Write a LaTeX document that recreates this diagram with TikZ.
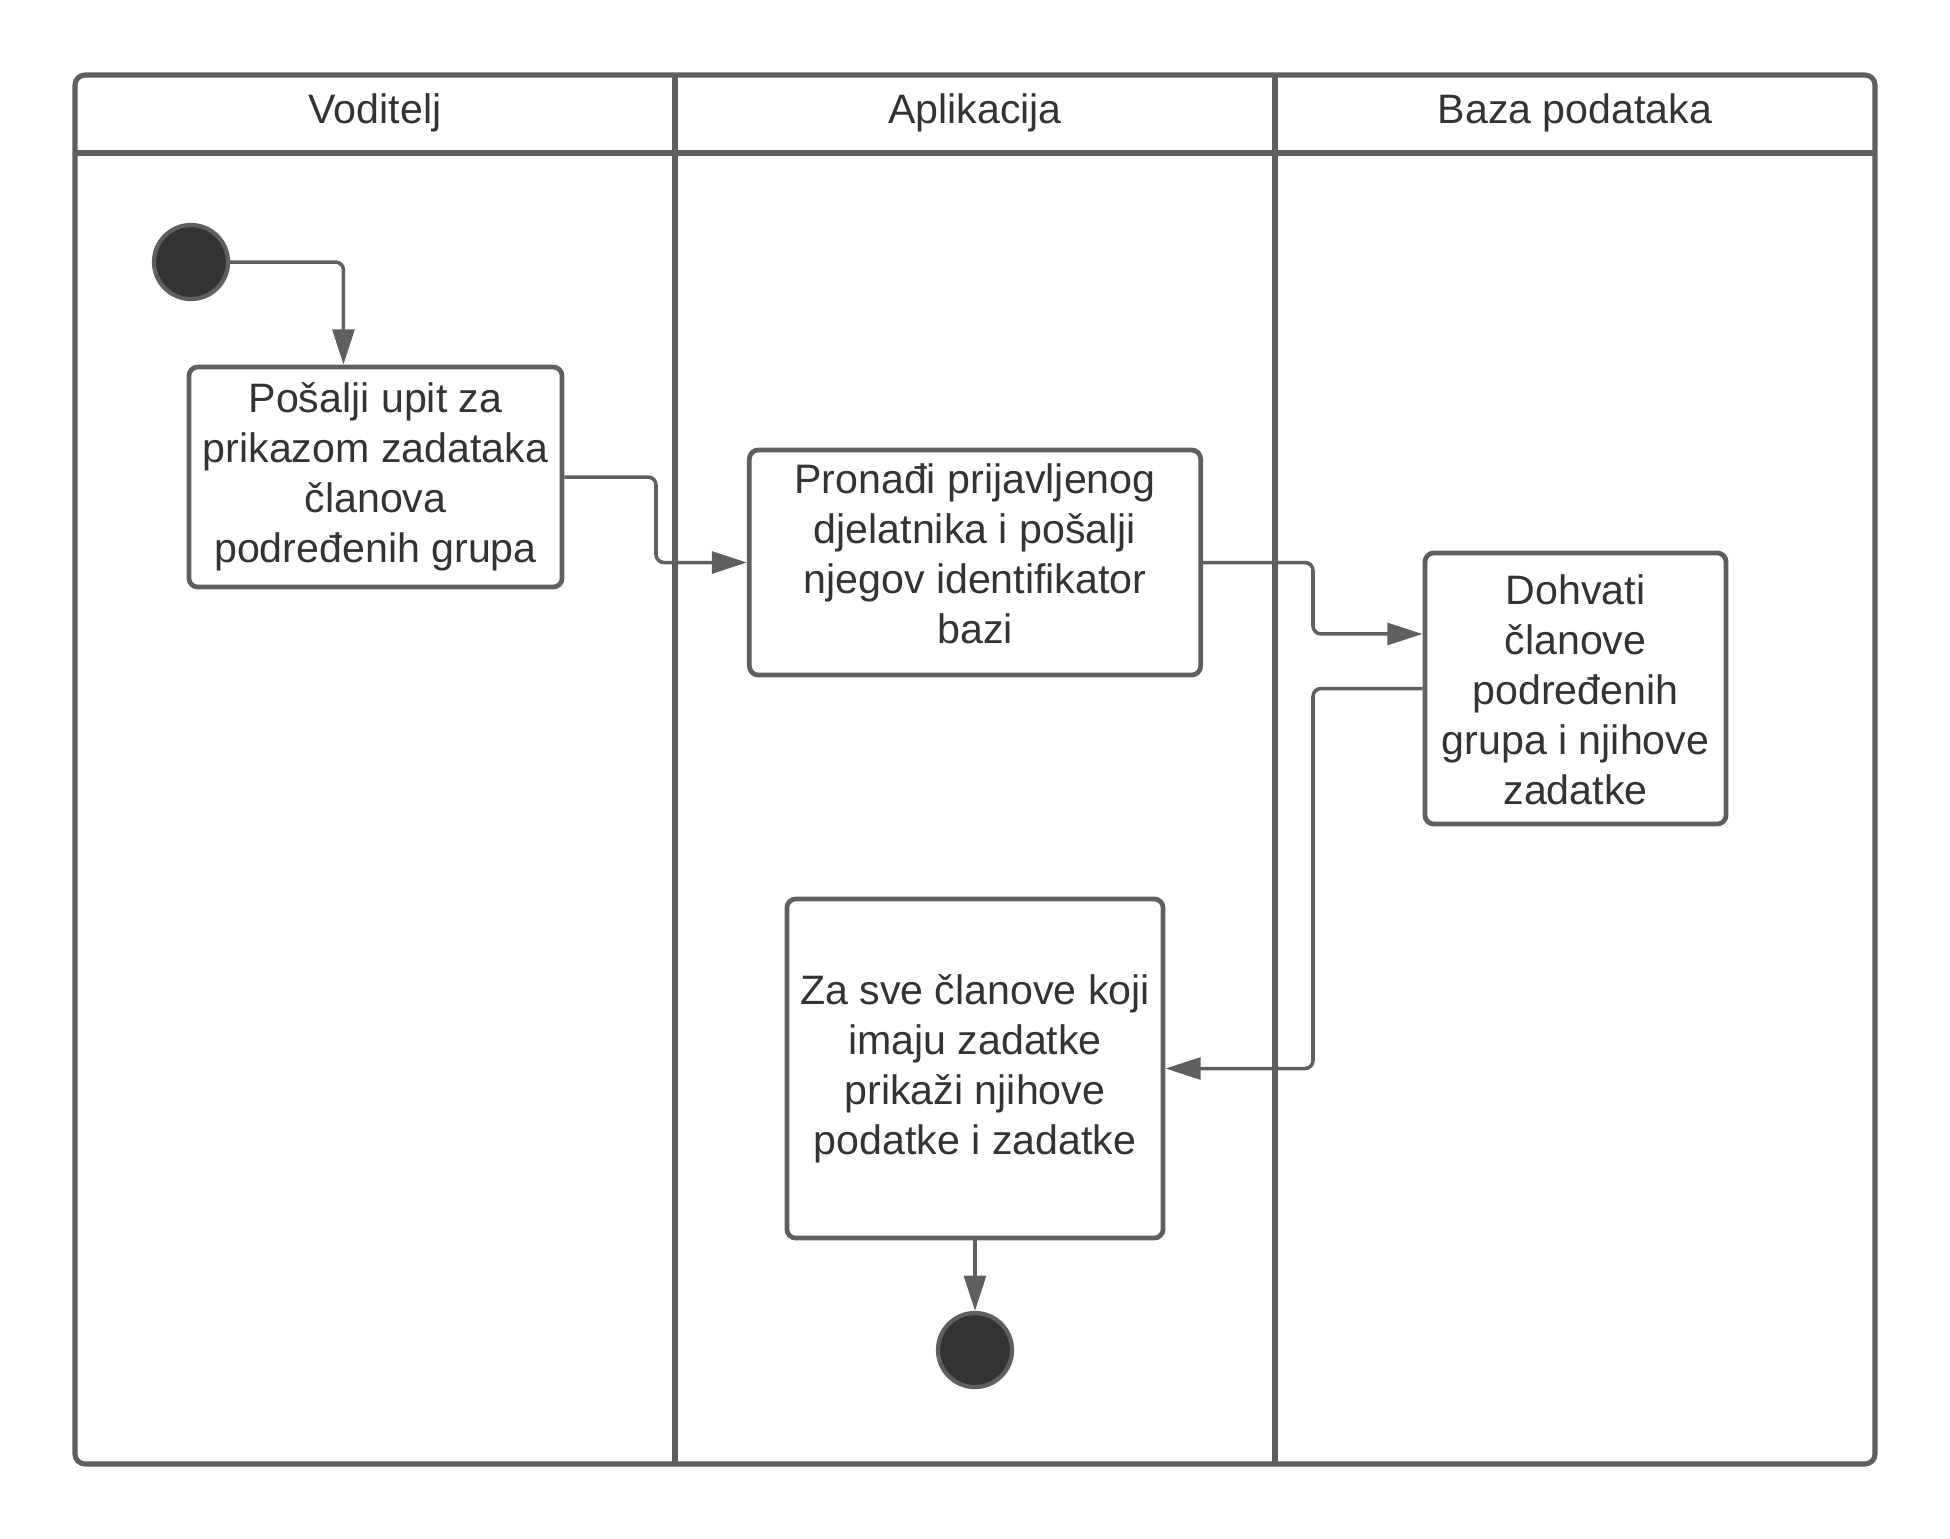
\documentclass[tikz,border=0pt]{standalone}
\usepackage{fontspec}
\setmainfont{Liberation Sans}
\usetikzlibrary{arrows.meta}
\definecolor{linegray}{HTML}{5F5F5F}
\definecolor{txt}{HTML}{333333}
\definecolor{dot}{HTML}{333333}
\begin{document}
\begin{tikzpicture}[x=0.01cm,y=-0.01cm,
  frameline/.style={draw=linegray,line width=1.45pt},
  actbox/.style={draw=linegray,line width=1.35pt,rounded corners=0.09cm,fill=white,
    align=center,inner sep=0pt,text=txt,font=\fontsize{11.7pt}{14.2pt}\selectfont},
  lanehead/.style={text=txt,font=\fontsize{11.7pt}{14.2pt}\selectfont,inner sep=0pt},
  dotnode/.style={circle,draw=linegray,line width=1.2pt,fill=dot,minimum size=0.74cm,inner sep=0pt},
  conn/.style={draw=linegray,line width=1pt,rounded corners=0.08cm,
    -{Triangle[length=10pt,width=6.2pt]}}
]
\useasboundingbox (0,0) rectangle (1950,1538);
% frame and lanes
\draw[frameline,rounded corners=0.1cm] (75,75) rectangle (1875,1464);
\draw[frameline] (75,153) -- (1875,153);
\draw[frameline] (675,75) -- (675,1464);
\draw[frameline] (1275,75) -- (1275,1464);
\node[lanehead] (h1) at (375,113) {Voditelj};
\node[lanehead] (h2) at (975,113) {Aplikacija};
\node[lanehead] (h3) at (1575,113) {Baza podataka};
% nodes
\node[dotnode] (start) at (191,262) {};
\node[actbox,minimum width=3.73cm,minimum height=2.2cm] (box1) at (375.5,477)
  {Pošalji upit za\\prikazom zadataka\\članova\\podređenih grupa};
\node[actbox,minimum width=4.51cm,minimum height=2.25cm] (box2) at (975,562.5)
  {Pronađi prijavljenog\\djelatnika i pošalji\\njegov identifikator\\bazi\rule[-0.18cm]{0pt}{0.18cm}};
\node[actbox,minimum width=3.01cm,minimum height=2.71cm] (box3) at (1575.5,688.5)
  {\rule{0pt}{0.33cm}Dohvati\\članove\\podređenih\\grupa i njihove\\zadatke};
\node[actbox,minimum width=3.76cm,minimum height=3.39cm] (box4) at (975,1068.5)
  {Za sve članove koji\\imaju zadatke\\prikaži njihove\\podatke i zadatke};
\node[dotnode] (end) at (975,1350) {};
% helper coordinates
\coordinate (k1) at (656,0);
\coordinate (k2) at (1313,0);
\coordinate (b3in) at ([yshift=0.545cm]box3.west);
% connectors
\draw[conn] (start.east) -| ([xshift=-0.32cm]box1.north);
\draw[conn] (box1.east) -| (k1 |- box2.west) -- (box2.west);
\draw[conn] (box2.east) -| (k2 |- b3in) -- (b3in);
\draw[conn] (box3.west) -| (k2 |- box4.east) -- (box4.east);
\draw[conn] (box4.south) -- (end.north);
\end{tikzpicture}
\end{document}
